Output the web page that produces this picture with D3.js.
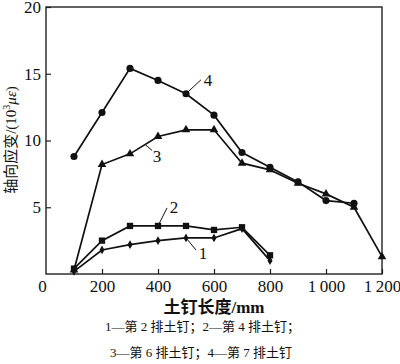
<!DOCTYPE html>
<html>
<head>
<meta charset="utf-8">
<script src="https://cdn.jsdelivr.net/npm/d3@7"></script>
<style>
  body { margin: 0; background: #fff; }
  text { font-family: "Liberation Serif", "Times New Roman", serif; }
  .cjk { font-family: "Liberation Serif", "Noto Sans CJK SC", serif; }
</style>
</head>
<body>
<svg id="chart"></svg>
<script>
// nail length (mm)
const lengths = [100, 200, 300, 400, 500, 600, 700, 800, 900, 1000, 1100, 1200];

// axial strain (10^3 με) for each nail row
const row2 = [0.2, 1.8, 2.2, 2.5, 2.7, 2.7, 3.4, 1.0];
const row4 = [0.4, 2.5, 3.6, 3.6, 3.6, 3.3, 3.5, 1.4];
const row6 = [0.3, 8.2, 9.0, 10.3, 10.8, 10.8, 8.3, 7.8, 6.8, 6.0, 5.0, 1.3];
const row7 = [8.8, 12.1, 15.4, 14.5, 13.5, 11.9, 9.1, 8.0, 6.9, 5.5, 5.3];

const xTicks = [0, 200, 400, 600, 800, 1000, 1200];
const yTicks = [5, 10, 15, 20];

const legendLines = ["1—第 2 排土钉；2—第 4 排土钉；", "3—第 6 排土钉；4—第 7 排土钉"];

const width = 400, height = 364;
const margin = { top: 7, right: 18, bottom: 90, left: 46 };

const svg = d3.select('#chart')
    .attr('width', width)
    .attr('height', height);

const x = d3.scaleLinear().domain([0, 1200]).range([margin.left, width - margin.right]);
const y = d3.scaleLinear().domain([0, 20]).range([height - margin.bottom, margin.top]);

const fmt = d => d >= 1000 ? `${Math.floor(d / 1000)}\u2009${String(d % 1000).padStart(3, '0')}` : `${d}`;

// frame
svg.append('rect')
    .attr('x', x(0)).attr('y', y(20))
    .attr('width', x(1200) - x(0)).attr('height', y(0) - y(20))
    .attr('fill', 'none').attr('stroke', '#222').attr('stroke-width', 1.4);

// x axis
const xAxis = svg.append('g')
    .attr('transform', `translate(0,${y(0)})`)
    .call(d3.axisBottom(x).tickValues(xTicks).tickFormat(fmt).tickSizeInner(-5).tickSizeOuter(0).tickPadding(6));
xAxis.select('.domain').remove();
xAxis.selectAll('line').attr('stroke', '#222').attr('stroke-width', 1.2);
xAxis.selectAll('text').attr('font-size', 17).attr('fill', '#111')
    .attr('font-family', 'Liberation Serif');
xAxis.selectAll('.tick').filter(d => d === 0).select('line').remove();
xAxis.selectAll('.tick').filter(d => d === 0).select('text').attr('dx', -4);

// y axis
const yAxis = svg.append('g')
    .attr('transform', `translate(${x(0)},0)`)
    .call(d3.axisLeft(y).tickValues(yTicks).tickSizeInner(-5).tickSizeOuter(0).tickPadding(5));
yAxis.select('.domain').remove();
yAxis.selectAll('line').attr('stroke', '#222').attr('stroke-width', 1.2);
yAxis.selectAll('text').attr('font-size', 17).attr('fill', '#111')
    .attr('font-family', 'Liberation Serif');

// series
const series = [
    { key: '1', values: row2, shape: 'diamond', size: 22 },
    { key: '2', values: row4, shape: 'square', size: 40 },
    { key: '3', values: row6, shape: 'triangle', size: 32 },
    { key: '4', values: row7, shape: 'circle', size: 40 }
];
const symbols = {
    diamond: d3.symbolDiamond,
    square: d3.symbolSquare,
    triangle: d3.symbolTriangle,
    circle: d3.symbolCircle
};

const line = d3.line()
    .x((d, i) => x(lengths[i]))
    .y(d => y(d));

series.forEach(s => {
    svg.append('path')
        .datum(s.values)
        .attr('d', line)
        .attr('fill', 'none')
        .attr('stroke', '#111')
        .attr('stroke-width', 1.7);

    svg.selectAll(null)
        .data(s.values)
        .enter()
        .append('path')
        .attr('d', d3.symbol().type(symbols[s.shape]).size(s.size))
        .attr('transform', (d, i) => `translate(${x(lengths[i])},${y(d)})`)
        .attr('fill', '#111');
});

// leader labels, anchored on the curves in data units
const leaders = [
    { text: '4', at: [500, row7[4]], dx: 15, dy: -14, tx: 22, ty: -8 },
    { text: '3', at: [354, 9.7], dx: 7, dy: 6, tx: 12, ty: 17 },
    { text: '2', at: [400, row4[3]], dx: 9, dy: -18, tx: 16, ty: -13 },
    { text: '1', at: [500, row2[4]], dx: 10, dy: 12, tx: 17, ty: 21 }
];
leaders.forEach(l => {
    const px = x(l.at[0]), py = y(l.at[1]);
    svg.append('line')
        .attr('x1', px).attr('y1', py)
        .attr('x2', px + l.dx).attr('y2', py + l.dy)
        .attr('stroke', '#111').attr('stroke-width', 1);
    svg.append('text')
        .attr('x', px + l.tx).attr('y', py + l.ty)
        .attr('text-anchor', 'middle')
        .attr('font-size', 17)
        .attr('fill', '#111')
        .text(l.text);
});

// axis titles
svg.append('text')
    .attr('class', 'cjk')
    .attr('x', 214).attr('y', 313)
    .attr('text-anchor', 'middle')
    .attr('font-size', 17)
    .attr('font-weight', 'bold')
    .attr('fill', '#111')
    .text('土钉长度/mm');

const yTitle = svg.append('text')
    .attr('class', 'cjk')
    .attr('transform', `translate(16,140) rotate(-90)`)
    .attr('text-anchor', 'middle')
    .attr('font-size', 15)
    .attr('fill', '#111');
yTitle.append('tspan').text('轴向应变/(10');
yTitle.append('tspan').attr('dy', -6).attr('font-size', 10).text('3');
yTitle.append('tspan').attr('dy', 6).attr('font-style', 'italic').text('με');
yTitle.append('tspan').text(')');

// legend notes
svg.selectAll('.note')
    .data(legendLines)
    .enter()
    .append('text')
    .attr('class', 'cjk')
    .attr('x', (d, i) => i === 0 ? 105 : 110)
    .attr('y', (d, i) => 331 + i * 26)
    .attr('font-size', 13)
    .attr('fill', '#111')
    .text(d => d);
</script>
</body>
</html>
